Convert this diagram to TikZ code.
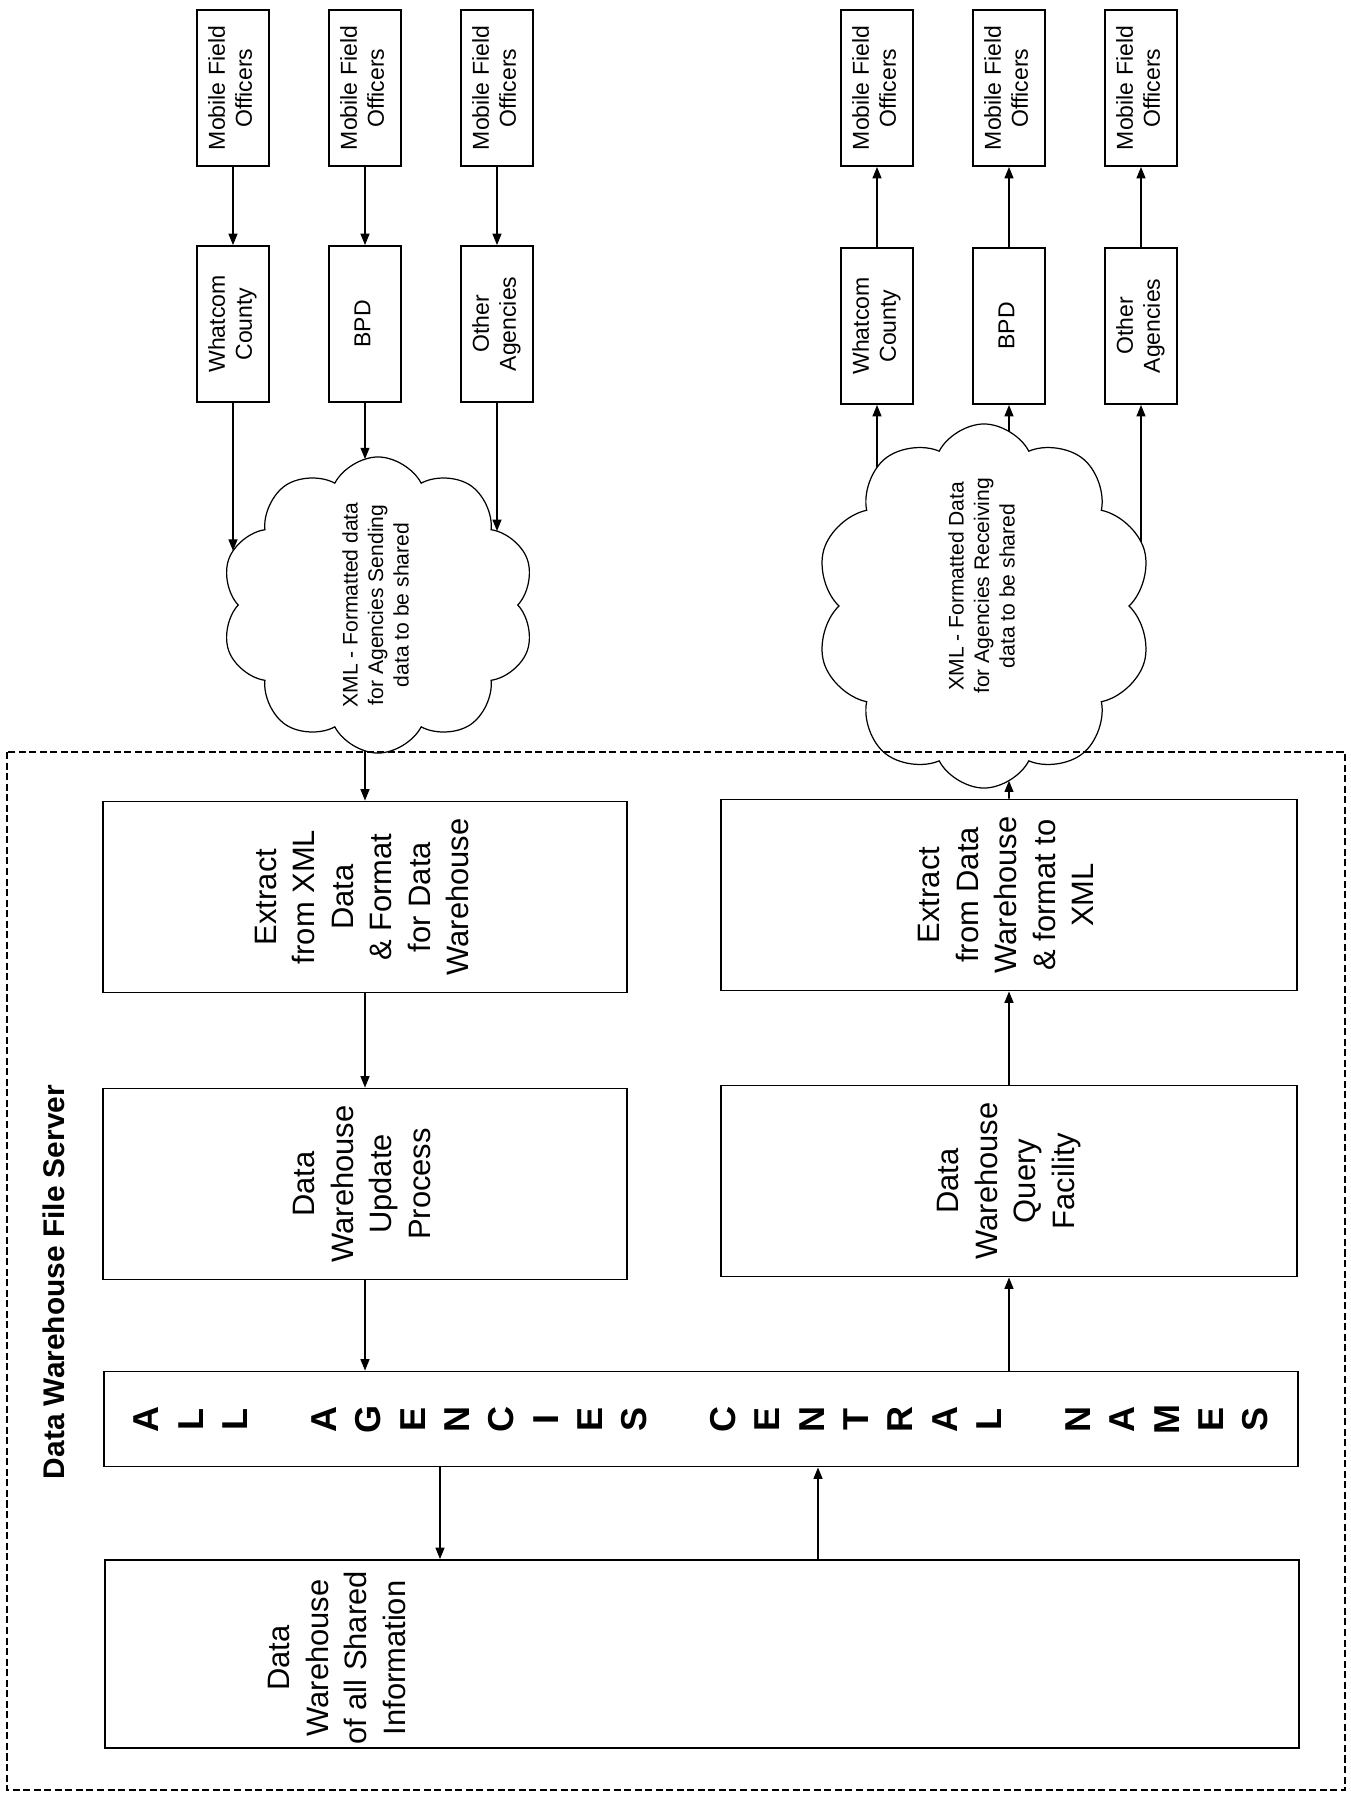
\documentclass[tikz,border=0pt]{standalone}
\usepackage{fontspec}
\setmainfont{Liberation Sans}
\usepackage{graphicx}
\usetikzlibrary{arrows.meta,shapes.symbols,intersections}

\newcommand{\vtext}[1]{\rotatebox{90}{\begin{tabular}{@{}c@{}}#1\end{tabular}}}
\newcommand{\barletter}[1]{\makebox[.8872cm]{\rotatebox[origin=c]{90}{#1}}}

\begin{document}
\begin{tikzpicture}[x=.02cm,y=-.02cm,
  fieldbox/.style={draw,line width=1pt,minimum width=1.44cm,minimum height=3.12cm,inner sep=0pt,font=\fontsize{13.1}{15.4}\selectfont},
  procbox/.style={draw,line width=1pt,minimum height=3.82cm,inner sep=0pt,font=\fontsize{17.6}{21.9}\selectfont},
  cloudbox/.style={draw,cloud,cloud puffs=10,cloud puff arc=125,cloud ignores aspect,line width=.7pt,inner sep=0pt,font=\fontsize{12}{14.5}\selectfont},
  arr/.style={line width=1pt,-{Triangle[length=6.5pt,width=5pt]}}]
\useasboundingbox (0,0) rectangle (1351,1806);
\node[fieldbox] (mfoSA) at (233,88) {\vtext{Mobile Field\\Officers}};
\node[fieldbox] (mfoSB) at (365,88) {\vtext{Mobile Field\\Officers}};
\node[fieldbox] (mfoSC) at (497,88) {\vtext{Mobile Field\\Officers}};
\node[fieldbox] (whatcomS) at (233,324) {\vtext{Whatcom\\County}};
\node[fieldbox] (bpdS) at (365,324) {\vtext{BPD}};
\node[fieldbox] (otherS) at (497,324) {\vtext{Other\\Agencies}};
\node[fieldbox] (mfoRA) at (877,88) {\vtext{Mobile Field\\Officers}};
\node[fieldbox] (mfoRB) at (1009,88) {\vtext{Mobile Field\\Officers}};
\node[fieldbox] (mfoRC) at (1141,88) {\vtext{Mobile Field\\Officers}};
\node[fieldbox] (whatcomR) at (877,326) {\vtext{Whatcom\\County}};
\node[fieldbox] (bpdR) at (1009,326) {\vtext{BPD}};
\node[fieldbox] (otherR) at (1141,326) {\vtext{Other\\Agencies}};
\node[cloudbox,minimum width=6.28cm,minimum height=5.48cm,name path=cloudSpath] (cloudS) at (378,605) {\vtext{XML - Formatted data\\for Agencies Sending\\data to be shared}};
\node[cloudbox,minimum width=6.74cm,minimum height=6.56cm,name path=cloudRpath] (cloudR) at (984,606) {\rotatebox{90}{\hspace{.8cm}\begin{tabular}{@{}c@{}}XML - Formatted Data\\for Agencies Receiving\\data to be shared\end{tabular}}};
\draw[line width=.8pt,dash pattern=on 4pt off 2pt] (7,752) rectangle (1345,1790);
\node[font=\bfseries\fontsize{17}{20}\selectfont] (server) at (54,1282) {\rotatebox{90}{Data Warehouse File Server}};
\node[procbox,minimum width=10.48cm] (extractS) at (365,897) {\vtext{Extract\\from XML\\Data\\\& Format\\for Data\\Warehouse}};
\node[procbox,minimum width=10.48cm] (updateS) at (365,1184) {\vtext{Data\\Warehouse\\Update\\Process}};
\node[procbox,minimum width=11.52cm] (extractR) at (1009,895) {\vtext{Extract\\from Data\\Warehouse\\\& format to\\XML}};
\node[procbox,minimum width=11.52cm] (query) at (1009,1181) {\vtext{Data\\Warehouse\\Query\\Facility}};
\node[draw,line width=1pt,minimum width=23.88cm,minimum height=1.9cm,inner sep=0pt,font=\bfseries\fontsize{20.5}{24}\selectfont] (names) at (701,1419) {\barletter{A}\barletter{L}\barletter{L}\barletter{}\barletter{A}\barletter{G}\barletter{E}\barletter{N}\barletter{C}\barletter{I}\barletter{E}\barletter{S}\barletter{}\barletter{C}\barletter{E}\barletter{N}\barletter{T}\barletter{R}\barletter{A}\barletter{L}\barletter{}\barletter{N}\barletter{A}\barletter{M}\barletter{E}\barletter{S}};
\node[draw,line width=1pt,minimum width=23.88cm,minimum height=3.76cm] (dw) at (702,1654) {};
\node[font=\fontsize{17.6}{21.9}\selectfont] (dwtext) at (340,1658) {\vtext{Data\\Warehouse\\of all Shared\\Information}};
\draw[arr] (mfoSA.south) -- (whatcomS.north);
\draw[arr] (mfoSB.south) -- (bpdS.north);
\draw[arr] (mfoSC.south) -- (otherS.north);
\path[name path=dropA] (whatcomS.south) -- ++(0,300);
\path[name path=dropB] (bpdS.south) -- ++(0,300);
\path[name path=dropC] (otherS.south) -- ++(0,300);
\path[name intersections={of=dropA and cloudSpath,sort by=dropA,by={hitA}}];
\path[name intersections={of=dropB and cloudSpath,sort by=dropB,by={hitB}}];
\path[name intersections={of=dropC and cloudSpath,sort by=dropC,by={hitC}}];
\draw[arr] (whatcomS.south) -- (hitA);
\draw[arr] (bpdS.south) -- (hitB);
\draw[arr] (otherS.south) -- (hitC);
\draw[arr] (whatcomR.north) -- (mfoRA.south);
\draw[arr] (bpdR.north) -- (mfoRB.south);
\draw[arr] (otherR.north) -- (mfoRC.south);
\path[name path=dropD] (whatcomR.south) -- ++(0,300);
\path[name path=dropE] (bpdR.south) -- ++(0,300);
\path[name path=dropF] (otherR.south) -- ++(0,300);
\path[name intersections={of=dropD and cloudRpath,sort by=dropD,by={hitD}}];
\path[name intersections={of=dropE and cloudRpath,sort by=dropE,by={hitE}}];
\path[name intersections={of=dropF and cloudRpath,sort by=dropF,by={hitF}}];
\draw[arr] (hitD) -- (whatcomR.south);
\draw[arr] (hitE) -- (bpdR.south);
\draw[arr] (hitF) -- (otherR.south);
\path[name path=riseG] (extractS.north) -- ++(0,-150);
\path[name path=riseH] (extractR.north) -- ++(0,-150);
\path[name intersections={of=riseG and cloudSpath,sort by=riseG,by={hitG}}];
\path[name intersections={of=riseH and cloudRpath,sort by=riseH,by={hitH}}];
\draw[arr] (hitG) -- (extractS.north);
\draw[arr] (extractR.north) -- (hitH);
\draw[arr] (extractS.south) -- (updateS.north);
\draw[arr] (updateS.south) -- (updateS.south |- names.north);
\draw[arr] (440,0 |- names.south) -- (440,0 |- dw.north);
\draw[arr] (818,0 |- dw.north) -- (818,0 |- names.south);
\draw[arr] (query.south |- names.north) -- (query.south);
\draw[arr] (query.north) -- (extractR.south);
\end{tikzpicture}
\end{document}
